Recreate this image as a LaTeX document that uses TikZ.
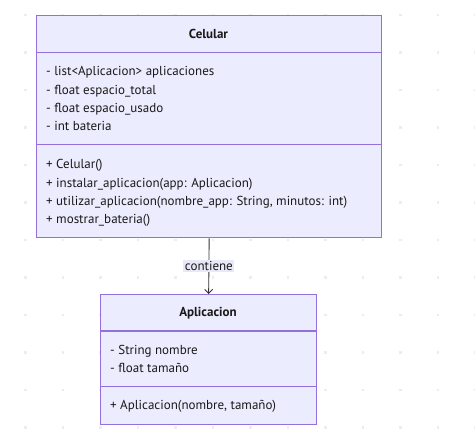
\documentclass[tikz,border=0pt]{standalone}
\usepackage{fontspec}
\setmainfont{PT Sans}
\usetikzlibrary{arrows.meta}
\definecolor{classfill}{HTML}{ECECFF}
\definecolor{classline}{HTML}{9370DB}
\definecolor{edgeline}{HTML}{333333}
\definecolor{labelfill}{HTML}{E8E8F8}
\tikzset{
  classbox/.style={draw=classline, fill=classfill, line width=1.3pt, anchor=north west, inner sep=0pt},
  divider/.style={draw=classline, line width=1.3pt},
  members/.style={anchor=north west, align=left, inner sep=0pt, text=black!90,
    font=\fontsize{13}{18.3}\selectfont},
  classtitle/.style={text=black!90, font=\fontsize{13}{15}\selectfont\bfseries},
  griddot/.style={fill=black!7}
}
\begin{document}
\begin{tikzpicture}[x=1pt,y=-1pt]
\useasboundingbox (0,0) rectangle (475,434);
\foreach \i in {0,...,12}
  \foreach \j in {0,...,11}
    \fill[griddot] (25.5+37.5*\i-1.3,15+37.5*\j-1.3) rectangle +(2.6,2.6);

\node[classbox, minimum width=345pt, minimum height=222pt] (celular) at (36,15) {};
\draw[divider] (celular.north west) ++(0,37.5) -- ++(345,0);
\draw[divider] (celular.north west) ++(0,129.7) -- ++(345,0);
\node[classtitle] (celulartitle) at (208.5,34) {Celular};
\node[members] (celularattr) at (46,66.5) {- list<Aplicacion> aplicaciones\\
  - float espacio\_total\\- float espacio\_usado\\- int bateria};
\node[members] (celularops) at (46,159.5) {+ Celular()\\
  + instalar\_aplicacion(app: Aplicacion)\\
  + utilizar\_aplicacion(nombre\_app: String, minutos: int)\\
  + mostrar\_bateria()};

\node[classbox, minimum width=216pt, minimum height=129.5pt] (aplicacion) at (100,294) {};
\draw[divider] (aplicacion.north west) ++(0,37) -- ++(216,0);
\draw[divider] (aplicacion.north west) ++(0,92.7) -- ++(216,0);
\node[classtitle] (aplicaciontitle) at (208,312.7) {Aplicacion};
\node[members] (aplicacionattr) at (110,345) {- String nombre\\- float tamaño};
\node[members] (aplicacionops) at (110,400.5) {+ Aplicacion(nombre, tamaño)};

\draw[edgeline, line width=0.9pt, -{Straight Barb[length=4pt,width=8pt]}]
  (celular.south) -- node[fill=labelfill, inner sep=1.5pt, text=black!90,
  font=\fontsize{13}{15}\selectfont] (contiene) {contiene} (aplicacion.north);
\end{tikzpicture}
\end{document}
